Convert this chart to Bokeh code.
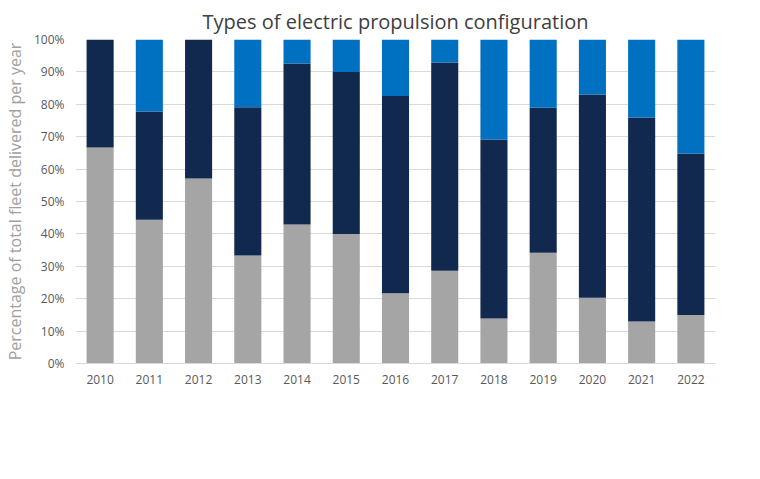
from bokeh.plotting import figure
from bokeh.models import Legend, LegendItem, NumeralTickFormatter, FixedTicker
from bokeh.embed import file_html
from bokeh.resources import INLINE

years = ["2010","2011","2012","2013","2014","2015","2016","2017","2018","2019","2020","2021","2022"]
pure = [66.7,44.4,57.1,33.3,42.9,40.0,21.7,28.6,13.9,34.2,20.3,13.0,15.0]
hybrid = [33.3,33.4,42.9,45.8,49.7,50.0,60.9,64.3,55.2,44.7,62.7,62.9,49.8]
plugin = [0.0,22.2,0.0,20.9,7.4,10.0,17.4,7.1,30.9,21.1,17.0,24.1,35.2]
series = ["Pure electric","Hybrid","Plug-in hybrid"]
colors = ["#A5A5A5","#12294F","#0070C0"]

data = {"year": years, "Pure electric": [v/100 for v in pure],
        "Hybrid": [v/100 for v in hybrid], "Plug-in hybrid": [v/100 for v in plugin]}

p = figure(x_range=years, y_range=(0,1), frame_width=640, frame_height=324,
           output_backend="svg", toolbar_location=None,
           title="Types of electric propulsion configuration",
           min_border_left=10, min_border_right=8, min_border_top=12)
r = p.vbar_stack(series, x="year", width=0.55, color=colors, source=data, line_color=None)
p.title.align = "center"
p.title.text_font = "Open Sans"
p.title.text_font_size = "20px"
p.title.text_font_style = "normal"
p.title.text_color = "#404040"
p.yaxis.ticker = FixedTicker(ticks=[i/10 for i in range(11)])
p.yaxis.formatter = NumeralTickFormatter(format="0%")
p.yaxis.axis_label = "Percentage of total fleet delivered per year"
p.yaxis.axis_label_text_font = "Open Sans"
p.yaxis.axis_label_text_font_size = "16px"
p.yaxis.axis_label_text_font_style = "normal"
p.yaxis.axis_label_text_color = "#A0A0A0"
for ax in (p.xaxis, p.yaxis):
    ax.major_label_text_font = "Open Sans"
    ax.major_label_text_font_size = "12px"
    ax.major_label_text_color = "#595959"
    ax.major_tick_line_color = None
    ax.minor_tick_line_color = None
p.yaxis.axis_line_color = None
p.xaxis.axis_line_color = "#D9D9D9"
p.xgrid.grid_line_color = None
p.ygrid.grid_line_color = "#D9D9D9"
p.outline_line_color = None
legend = Legend(items=[LegendItem(label=s, renderers=[rr]) for s, rr in zip(series, r)],
                orientation="horizontal", location="center", border_line_color=None,
                label_text_font="Open Sans", label_text_font_size="12px",
                label_text_color="#595959", glyph_width=10, glyph_height=10, spacing=25)
p.add_layout(legend, "below")
open("out.html","w").write(file_html(p, INLINE))
